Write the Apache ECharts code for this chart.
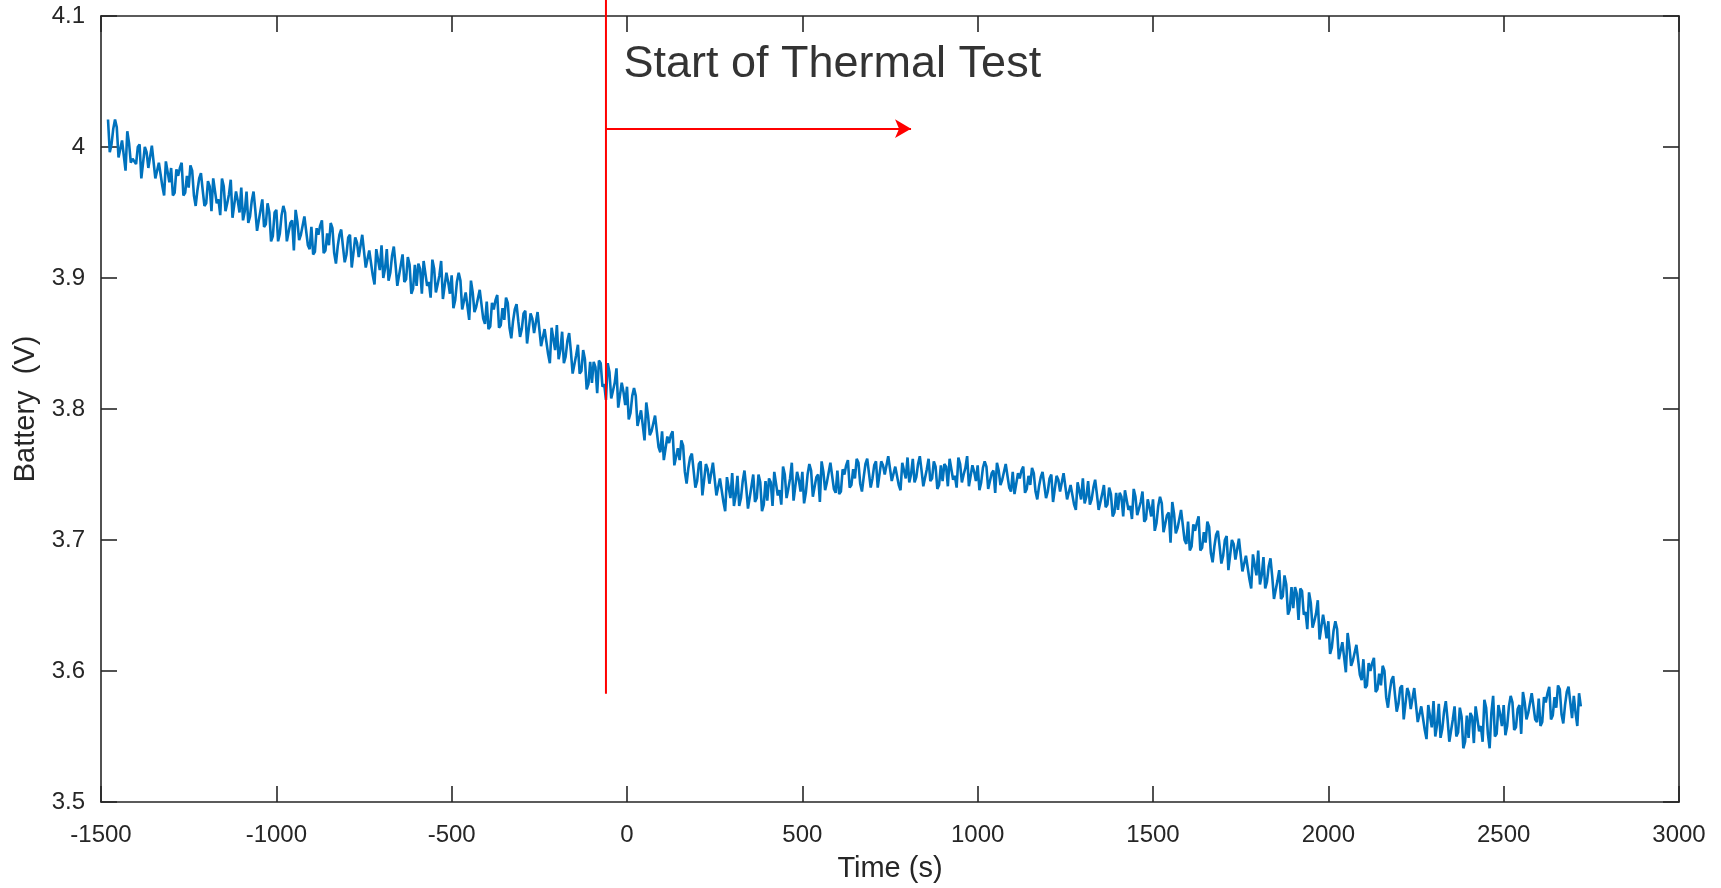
<!DOCTYPE html>
<html>
<head>
<meta charset="utf-8">
<script src="https://cdn.jsdelivr.net/npm/echarts@6/dist/echarts.min.js"></script>
<style>
  html, body { margin: 0; padding: 0; background: #ffffff; }
  #chart { width: 1721px; height: 888px; }
</style>
</head>
<body>
<div id="chart"></div>
<script>
// ---- data ----
const SAMPLE_START = -1480;   // s, first sample time
const SAMPLE_STEP = 5;        // s, sampling interval of the series below
const BATTERY_V = [
  4.021, 3.996, 4.002, 4.014, 4.021, 4.015, 3.992, 3.992, 4.005, 4.006, 3.982, 4.012, 4.003, 3.988, 3.991, 3.991,
  3.987, 4.000, 4.002, 3.976, 3.975, 4.000, 3.996, 3.984, 3.984, 4.001, 4.000, 3.976, 3.975, 3.988, 3.987, 3.970, 3.963, 3.989, 3.988, 3.973,
  3.984, 3.963, 3.965, 3.983, 3.978, 3.984, 3.988, 3.963, 3.965, 3.978, 3.969, 3.986, 3.982, 3.963, 3.955, 3.967, 3.976, 3.980, 3.967, 3.955,
  3.957, 3.974, 3.970, 3.951, 3.976, 3.975, 3.957, 3.960, 3.948, 3.976, 3.970, 3.951, 3.957, 3.964, 3.975, 3.946, 3.946, 3.966, 3.959, 3.950,
  3.969, 3.944, 3.951, 3.966, 3.942, 3.947, 3.959, 3.966, 3.952, 3.936, 3.935, 3.952, 3.960, 3.939, 3.941, 3.957, 3.950, 3.928, 3.932, 3.950,
  3.952, 3.928, 3.934, 3.948, 3.955, 3.950, 3.928, 3.929, 3.942, 3.944, 3.921, 3.952, 3.943, 3.929, 3.933, 3.934, 3.947, 3.947, 3.925, 3.922,
  3.939, 3.918, 3.920, 3.938, 3.933, 3.940, 3.944, 3.919, 3.921, 3.934, 3.925, 3.942, 3.938, 3.919, 3.911, 3.924, 3.933, 3.937, 3.924, 3.912,
  3.918, 3.931, 3.933, 3.908, 3.907, 3.931, 3.927, 3.916, 3.916, 3.933, 3.932, 3.908, 3.907, 3.921, 3.920, 3.902, 3.895, 3.922, 3.921, 3.906,
  3.925, 3.900, 3.907, 3.922, 3.898, 3.904, 3.917, 3.924, 3.910, 3.894, 3.893, 3.910, 3.918, 3.897, 3.899, 3.916, 3.910, 3.888, 3.892, 3.910,
  3.894, 3.911, 3.907, 3.888, 3.913, 3.912, 3.894, 3.897, 3.885, 3.914, 3.907, 3.889, 3.895, 3.902, 3.913, 3.884, 3.884, 3.904, 3.897, 3.888,
  3.902, 3.877, 3.883, 3.897, 3.904, 3.898, 3.876, 3.876, 3.889, 3.890, 3.868, 3.898, 3.889, 3.874, 3.878, 3.878, 3.891, 3.891, 3.869, 3.865,
  3.882, 3.861, 3.863, 3.881, 3.876, 3.883, 3.887, 3.862, 3.864, 3.877, 3.868, 3.885, 3.881, 3.862, 3.854, 3.867, 3.876, 3.880, 3.867, 3.855,
  3.861, 3.873, 3.875, 3.850, 3.849, 3.873, 3.869, 3.858, 3.858, 3.874, 3.873, 3.848, 3.847, 3.861, 3.860, 3.842, 3.835, 3.862, 3.861, 3.845,
  3.864, 3.838, 3.845, 3.859, 3.835, 3.840, 3.852, 3.858, 3.844, 3.827, 3.826, 3.841, 3.849, 3.827, 3.829, 3.845, 3.838, 3.815, 3.819, 3.836,
  3.820, 3.836, 3.832, 3.812, 3.837, 3.835, 3.817, 3.819, 3.807, 3.835, 3.828, 3.808, 3.814, 3.820, 3.831, 3.801, 3.801, 3.820, 3.813, 3.803,
  3.817, 3.792, 3.797, 3.810, 3.816, 3.810, 3.787, 3.787, 3.799, 3.799, 3.776, 3.805, 3.795, 3.780, 3.783, 3.783, 3.795, 3.794, 3.771, 3.767,
  3.783, 3.761, 3.762, 3.779, 3.774, 3.780, 3.783, 3.757, 3.758, 3.770, 3.761, 3.776, 3.772, 3.752, 3.743, 3.755, 3.763, 3.766, 3.753, 3.740,
  3.745, 3.758, 3.760, 3.734, 3.733, 3.758, 3.754, 3.743, 3.743, 3.759, 3.759, 3.734, 3.733, 3.747, 3.746, 3.729, 3.722, 3.748, 3.747, 3.732,
  3.751, 3.726, 3.734, 3.749, 3.726, 3.732, 3.745, 3.753, 3.740, 3.724, 3.724, 3.741, 3.750, 3.729, 3.732, 3.750, 3.744, 3.722, 3.727, 3.745,
  3.730, 3.747, 3.744, 3.726, 3.752, 3.751, 3.734, 3.738, 3.727, 3.756, 3.750, 3.732, 3.739, 3.747, 3.759, 3.730, 3.731, 3.752, 3.746, 3.737,
  3.752, 3.728, 3.736, 3.750, 3.758, 3.753, 3.733, 3.734, 3.748, 3.750, 3.729, 3.760, 3.752, 3.738, 3.744, 3.745, 3.759, 3.759, 3.739, 3.736,
  3.753, 3.735, 3.737, 3.754, 3.750, 3.757, 3.761, 3.740, 3.742, 3.754, 3.747, 3.762, 3.759, 3.743, 3.737, 3.748, 3.758, 3.762, 3.751, 3.740,
  3.747, 3.757, 3.760, 3.740, 3.740, 3.760, 3.757, 3.750, 3.750, 3.764, 3.764, 3.745, 3.745, 3.756, 3.756, 3.742, 3.738, 3.759, 3.759, 3.747,
  3.763, 3.744, 3.750, 3.762, 3.744, 3.748, 3.758, 3.764, 3.753, 3.741, 3.741, 3.754, 3.762, 3.745, 3.747, 3.760, 3.756, 3.739, 3.742, 3.757,
  3.745, 3.758, 3.756, 3.741, 3.762, 3.761, 3.746, 3.749, 3.740, 3.763, 3.758, 3.744, 3.750, 3.755, 3.764, 3.741, 3.742, 3.757, 3.752, 3.745,
  3.757, 3.738, 3.744, 3.755, 3.760, 3.756, 3.739, 3.740, 3.751, 3.753, 3.736, 3.759, 3.753, 3.742, 3.746, 3.746, 3.758, 3.757, 3.740, 3.737,
  3.752, 3.735, 3.736, 3.751, 3.747, 3.753, 3.756, 3.736, 3.739, 3.749, 3.742, 3.755, 3.751, 3.737, 3.731, 3.741, 3.748, 3.752, 3.742, 3.732,
  3.737, 3.747, 3.750, 3.729, 3.729, 3.749, 3.746, 3.737, 3.738, 3.751, 3.751, 3.731, 3.731, 3.742, 3.742, 3.727, 3.723, 3.744, 3.744, 3.731,
  3.747, 3.728, 3.733, 3.745, 3.727, 3.731, 3.740, 3.746, 3.735, 3.723, 3.722, 3.735, 3.742, 3.725, 3.727, 3.740, 3.735, 3.718, 3.721, 3.736,
  3.723, 3.736, 3.733, 3.718, 3.738, 3.737, 3.723, 3.726, 3.716, 3.739, 3.733, 3.719, 3.724, 3.729, 3.737, 3.714, 3.716, 3.731, 3.725, 3.718,
  3.731, 3.707, 3.713, 3.726, 3.733, 3.728, 3.706, 3.706, 3.719, 3.721, 3.698, 3.729, 3.720, 3.705, 3.709, 3.710, 3.723, 3.722, 3.700, 3.697,
  3.714, 3.692, 3.695, 3.712, 3.707, 3.713, 3.718, 3.692, 3.694, 3.706, 3.698, 3.714, 3.710, 3.690, 3.683, 3.695, 3.704, 3.707, 3.695, 3.682,
  3.688, 3.700, 3.703, 3.677, 3.676, 3.700, 3.697, 3.685, 3.685, 3.701, 3.701, 3.676, 3.675, 3.688, 3.688, 3.670, 3.663, 3.689, 3.689, 3.673,
  3.692, 3.666, 3.673, 3.687, 3.663, 3.668, 3.680, 3.686, 3.672, 3.655, 3.654, 3.669, 3.677, 3.655, 3.657, 3.673, 3.666, 3.643, 3.647, 3.664,
  3.648, 3.664, 3.659, 3.639, 3.663, 3.661, 3.643, 3.645, 3.632, 3.660, 3.652, 3.633, 3.638, 3.644, 3.654, 3.624, 3.624, 3.643, 3.635, 3.625,
  3.638, 3.613, 3.618, 3.631, 3.638, 3.632, 3.609, 3.609, 3.622, 3.623, 3.599, 3.629, 3.619, 3.604, 3.608, 3.608, 3.620, 3.619, 3.597, 3.593,
  3.609, 3.587, 3.589, 3.606, 3.600, 3.606, 3.610, 3.584, 3.586, 3.598, 3.589, 3.604, 3.600, 3.580, 3.572, 3.584, 3.593, 3.596, 3.582, 3.569,
  3.575, 3.587, 3.589, 3.563, 3.562, 3.587, 3.583, 3.571, 3.571, 3.587, 3.586, 3.561, 3.560, 3.573, 3.572, 3.555, 3.548, 3.574, 3.573, 3.557,
  3.577, 3.550, 3.559, 3.575, 3.549, 3.556, 3.569, 3.577, 3.563, 3.546, 3.546, 3.563, 3.573, 3.550, 3.553, 3.572, 3.565, 3.541, 3.546, 3.566,
  3.549, 3.568, 3.565, 3.545, 3.573, 3.572, 3.554, 3.558, 3.546, 3.578, 3.572, 3.552, 3.541, 3.568, 3.581, 3.550, 3.552, 3.574, 3.567, 3.558,
  3.574, 3.551, 3.558, 3.573, 3.581, 3.576, 3.555, 3.557, 3.571, 3.574, 3.552, 3.584, 3.576, 3.563, 3.568, 3.569, 3.583, 3.584, 3.563, 3.561,
  3.579, 3.558, 3.561, 3.580, 3.576, 3.583, 3.588, 3.563, 3.566, 3.580, 3.572, 3.589, 3.586, 3.567, 3.560, 3.574, 3.584, 3.588, 3.576, 3.564,
  3.581, 3.568, 3.558, 3.583, 3.573
];
const X_TICKS = [-1500, -1000, -500, 0, 500, 1000, 1500, 2000, 2500, 3000];
const Y_TICKS = [3.5, 3.6, 3.7, 3.8, 3.9, 4.0, 4.1];
const X_TITLE = 'Time (s)';
const Y_TITLE = 'Battery  (V)';
const NOTE_TEXT = 'Start of Thermal Test';
const TEST_START_T = -60;          // s, red vertical marker
const MARKER_Y = [3.5826, 4.12];   // V, vertical extent of the marker
const ARROW_END_T = 810;           // s, arrow tip
const ARROW_Y = 4.014;             // V, arrow height
const NOTE_POS = [-10, 4.063];     // text anchor (left, middle)

// ---- build ----
const series = BATTERY_V.map((v, i) => [SAMPLE_START + i * SAMPLE_STEP, v]);

const AX = '#262626';
const FONT = 'Liberation Sans, Arial, Helvetica, sans-serif';

const chart = echarts.init(document.getElementById('chart'), null, { renderer: 'canvas' });

const axisLine = { show: true, onZero: false, lineStyle: { color: AX, width: 1.6 } };
const axisTick = { show: true, inside: true, length: 16, lineStyle: { color: AX, width: 1.6 } };

chart.setOption({
  animation: false,
  backgroundColor: '#ffffff',
  grid: { left: 101, top: 16, right: 42, bottom: 85, containLabel: false },
  xAxis: [
    {
      type: 'value', min: X_TICKS[0], max: X_TICKS[X_TICKS.length - 1], interval: 500,
      position: 'bottom',
      name: X_TITLE, nameLocation: 'middle', nameGap: 52,
      nameTextStyle: { color: AX, fontSize: 29, fontFamily: FONT },
      axisLine: axisLine, axisTick: axisTick,
      axisLabel: { color: AX, fontSize: 24, fontFamily: FONT, margin: 21, formatter: v => String(v) },
      splitLine: { show: false }
    },
    {
      type: 'value', min: X_TICKS[0], max: X_TICKS[X_TICKS.length - 1], interval: 500,
      position: 'top',
      axisLine: axisLine, axisTick: axisTick,
      axisLabel: { show: false }, splitLine: { show: false }
    }
  ],
  yAxis: [
    {
      type: 'value', min: Y_TICKS[0], max: Y_TICKS[Y_TICKS.length - 1], interval: 0.1,
      position: 'left',
      name: Y_TITLE, nameLocation: 'middle', nameGap: 60, nameRotate: 90,
      nameTextStyle: { color: AX, fontSize: 29, fontFamily: FONT },
      axisLine: axisLine, axisTick: axisTick,
      axisLabel: { color: AX, fontSize: 24, fontFamily: FONT, margin: 16, formatter: v => String(+v.toFixed(1)) },
      splitLine: { show: false }
    },
    {
      type: 'value', min: Y_TICKS[0], max: Y_TICKS[Y_TICKS.length - 1], interval: 0.1,
      position: 'right',
      axisLine: axisLine, axisTick: axisTick,
      axisLabel: { show: false }, splitLine: { show: false }
    }
  ],
  series: [
    {
      type: 'line', name: 'Battery', data: series, xAxisIndex: 0, yAxisIndex: 0,
      showSymbol: false, symbol: 'none', sampling: null,
      lineStyle: { color: '#0072BD', width: 2.6 },
      z: 2
    },
    {
      type: 'line', name: 'marker', xAxisIndex: 0, yAxisIndex: 0, clip: false,
      data: [[TEST_START_T, MARKER_Y[0]], [TEST_START_T, MARKER_Y[1]]],
      symbol: 'none', lineStyle: { color: '#ff0000', width: 2 }, z: 3,
      markLine: {
        silent: true, animation: false,
        symbol: ['none', 'arrow'], symbolSize: [14, 16],
        lineStyle: { color: '#ff0000', width: 2, type: 'solid' },
        label: { show: false },
        data: [[{ coord: [TEST_START_T, ARROW_Y] }, { coord: [ARROW_END_T, ARROW_Y] }]]
      }
    },
    {
      type: 'scatter', name: 'note', xAxisIndex: 0, yAxisIndex: 0,
      data: [NOTE_POS], symbolSize: 0, silent: true,
      label: {
        show: true, position: [0, 0], align: 'left', verticalAlign: 'middle',
        formatter: NOTE_TEXT, color: '#000000', fontSize: 45, fontFamily: FONT
      },
      z: 4
    }
  ]
});
</script>
</body>
</html>
